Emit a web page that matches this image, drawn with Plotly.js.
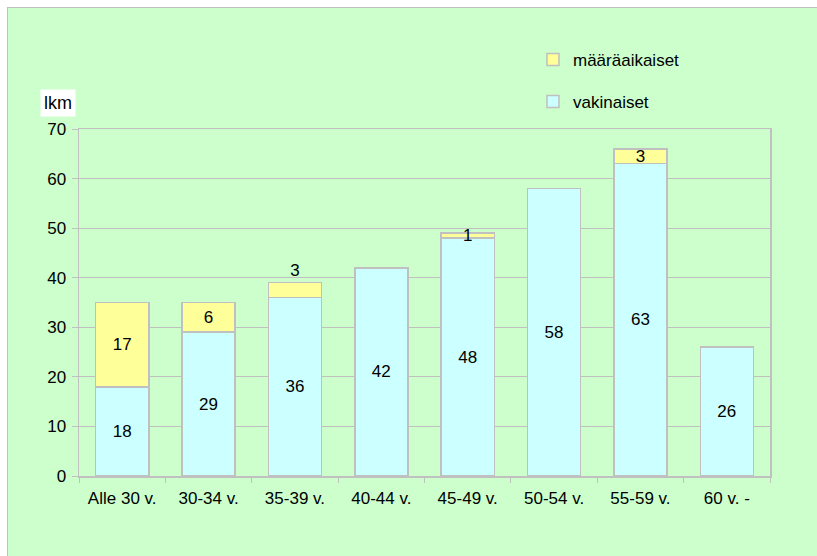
<!DOCTYPE html>
<html>
<head>
<meta charset="utf-8">
<script src="https://cdn.plot.ly/plotly-3.0.1.min.js"></script>
<style>
  html, body { margin: 0; padding: 0; background: #ffffff; width: 817px; height: 556px; overflow: hidden; }
  #frame { position: absolute; left: 7px; top: 7px; width: 810px; height: 549px;
           border-top: 1px solid #c0c0c0; border-left: 1px solid #c0c0c0; background: #ccffcc; }
  #chart { width: 809px; height: 548px; }
</style>
</head>
<body>
<div id="frame"><div id="chart"></div></div>
<script>
const categories = ["Alle 30 v.", "30-34 v.", "35-39 v.", "40-44 v.", "45-49 v.", "50-54 v.", "55-59 v.", "60 v. -"];
const vakinaiset = [18, 29, 36, 42, 48, 58, 63, 26];
const maaraaikaiset = [17, 6, 3, 0, 1, 0, 3, 0];
const maaraLabels = ["17", "6", "3", "", "1", "", "3", ""];
const maaraLabelPos = ["inside", "inside", "outside", "inside", "inside", "inside", "inside", "inside"];
const yTicks = [0, 10, 20, 30, 40, 50, 60, 70];

const FONT = "Liberation Sans, Arial, sans-serif";
const FS = 17;
const GRAY = "#c0c0c0";

const traceVak = {
  type: "bar",
  name: "vakinaiset",
  x: categories,
  y: vakinaiset,
  text: vakinaiset.map(String),
  textposition: "inside",
  insidetextanchor: "middle",
  textangle: 0,
  constraintext: "none",
  textfont: { family: FONT, size: FS, color: "#000000" },
  marker: { color: "#ccffff", line: { color: GRAY, width: 1.5 } },
  legend: "legend2",
  hoverinfo: "none"
};
const traceMaara = {
  type: "bar",
  name: "määräaikaiset",
  x: categories,
  y: maaraaikaiset,
  text: maaraLabels,
  textposition: maaraLabelPos,
  insidetextanchor: "middle",
  textangle: 0,
  constraintext: "none",
  cliponaxis: false,
  textfont: { family: FONT, size: FS, color: "#000000" },
  marker: { color: "#ffff99", line: { color: GRAY, width: 1.5 } },
  legend: "legend",
  hoverinfo: "none"
};

const layout = {
  width: 809,
  height: 548,
  margin: { l: 71, r: 47, t: 121, b: 80 },
  paper_bgcolor: "#ccffcc",
  plot_bgcolor: "#ccffcc",
  barmode: "stack",
  bargap: 0.385,
  font: { family: FONT, size: FS, color: "#000000" },
  showlegend: true,
  legend: {
    x: 0.657, y: 1.199, xanchor: "left", yanchor: "middle",
    bgcolor: "rgba(0,0,0,0)", font: { family: FONT, size: FS }, itemwidth: 30
  },
  legend2: {
    x: 0.657, y: 1.078, xanchor: "left", yanchor: "middle",
    bgcolor: "rgba(0,0,0,0)", font: { family: FONT, size: FS }, itemwidth: 30
  },
  xaxis: {
    type: "category",
    showgrid: false,
    showline: true, linecolor: GRAY, linewidth: 1.5, mirror: true,
    ticks: "outside", tickson: "boundaries", ticklen: 5, tickcolor: GRAY, tickwidth: 1,
    ticklabelstandoff: 6,
    tickfont: { family: FONT, size: FS },
    fixedrange: true
  },
  yaxis: {
    range: [0, 70],
    tickvals: yTicks,
    ticktext: yTicks.map(String),
    showgrid: true, gridcolor: GRAY, gridwidth: 1,
    zeroline: false,
    showline: true, linecolor: GRAY, linewidth: 1.5, mirror: true,
    ticks: "outside", ticklen: 6, tickcolor: GRAY, tickwidth: 1,
    ticklabelstandoff: 2,
    tickfont: { family: FONT, size: FS },
    fixedrange: true
  },
  annotations: [{
    xref: "paper", yref: "paper",
    x: -0.03, y: 1.075, xanchor: "center", yanchor: "middle",
    text: "lkm", showarrow: false,
    font: { family: FONT, size: 18, color: "#000000" },
    bgcolor: "#ffffff", borderpad: 3
  }]
};

Plotly.newPlot("chart", [traceVak, traceMaara], layout, { staticPlot: true, displayModeBar: false });
</script>
</body>
</html>
